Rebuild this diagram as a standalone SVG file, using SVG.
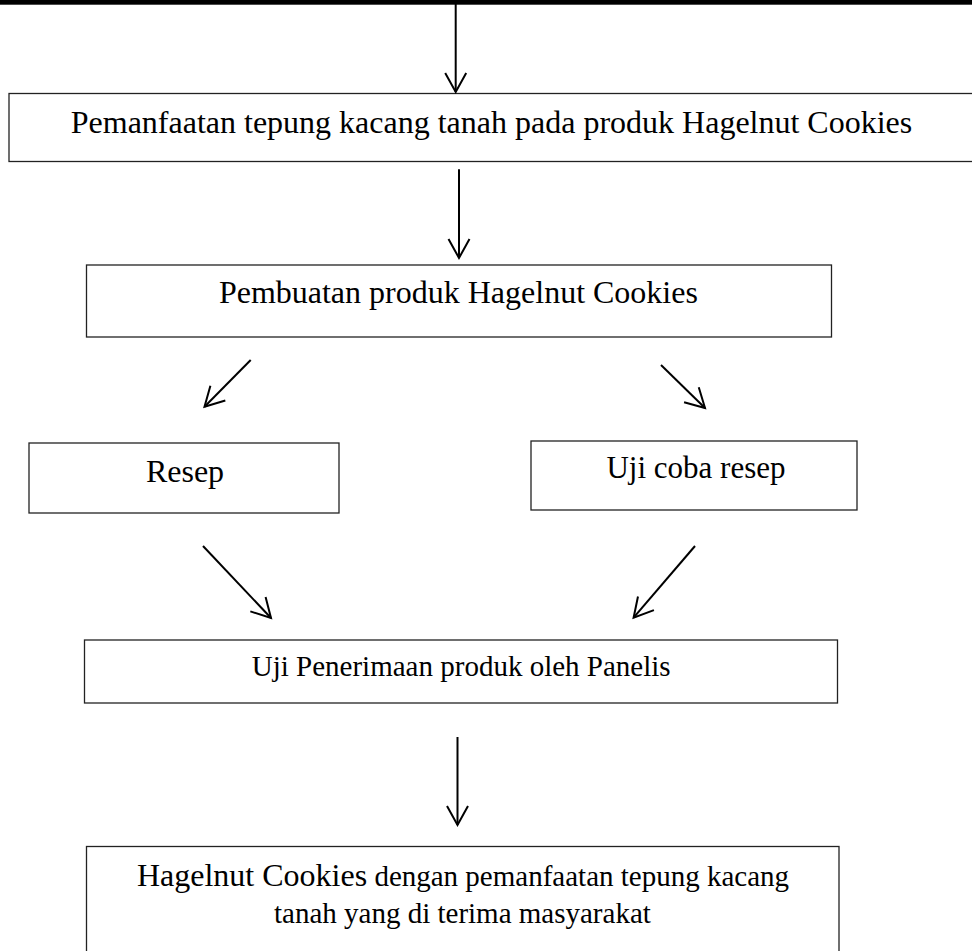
<svg xmlns="http://www.w3.org/2000/svg" width="972" height="951" viewBox="0 0 972 951">
  <defs>
    <style>
      .box { fill: #ffffff; stroke: #222222; stroke-width: 1.3; }
      .conn { fill: none; stroke: #000000; stroke-width: 2; marker-end: url(#vhead); }
      .t { font-family: "Liberation Serif", "Times New Roman", serif; fill: #000000; text-anchor: middle; }
    </style>
    <marker id="vhead" markerUnits="userSpaceOnUse" markerWidth="30" markerHeight="30" refX="0" refY="0" orient="auto" overflow="visible">
      <path d="M-19,-10.5 L0,0 L-19,10.5" fill="none" stroke="#000000" stroke-width="2"/>
    </marker>
  </defs>
  <rect x="0" y="0" width="972" height="951" fill="#ffffff"/>
  <rect id="topbar" x="0" y="0" width="972" height="4.7" fill="#000000"/>

  <g id="n1">
    <rect class="box" x="9" y="93.5" width="975" height="68"/>
    <text class="t" x="491.5" y="132.7" font-size="32">Pemanfaatan tepung kacang tanah pada produk Hagelnut Cookies</text>
  </g>
  <g id="n2">
    <rect class="box" x="86.5" y="265" width="745" height="72"/>
    <text class="t" x="458.4" y="303.3" font-size="32">Pembuatan produk Hagelnut Cookies</text>
  </g>
  <g id="n3">
    <rect class="box" x="29" y="443" width="310" height="70"/>
    <text class="t" x="185" y="481.5" font-size="32">Resep</text>
  </g>
  <g id="n4">
    <rect class="box" x="531" y="441" width="326" height="69"/>
    <text class="t" x="696" y="478.3" font-size="31">Uji coba resep</text>
  </g>
  <g id="n5">
    <rect class="box" x="84.5" y="640" width="753" height="63"/>
    <text class="t" x="461.2" y="676" font-size="29">Uji Penerimaan produk oleh Panelis</text>
  </g>
  <g id="n6">
    <rect class="box" x="86.5" y="846.5" width="752.5" height="120"/>
    <text class="t" x="463" y="886.3" font-size="29"><tspan font-size="32">Hagelnut Cookies</tspan> dengan pemanfaatan tepung kacang</text>
    <text class="t" x="462.4" y="922.5" font-size="29">tanah yang di terima masyarakat</text>
  </g>

  <g id="connectors">
    <line class="conn" x1="455.7" y1="4" x2="455.7" y2="92"/>
    <line class="conn" x1="459" y1="169.3" x2="459" y2="258"/>
    <line class="conn" x1="250.7" y1="360" x2="204.5" y2="406.7"/>
    <line class="conn" x1="661" y1="365" x2="705" y2="408"/>
    <line class="conn" x1="203" y1="546" x2="271" y2="618"/>
    <line class="conn" x1="695" y1="546" x2="633.6" y2="617.7"/>
    <line class="conn" x1="457.5" y1="737" x2="457.5" y2="825"/>
  </g>
</svg>
